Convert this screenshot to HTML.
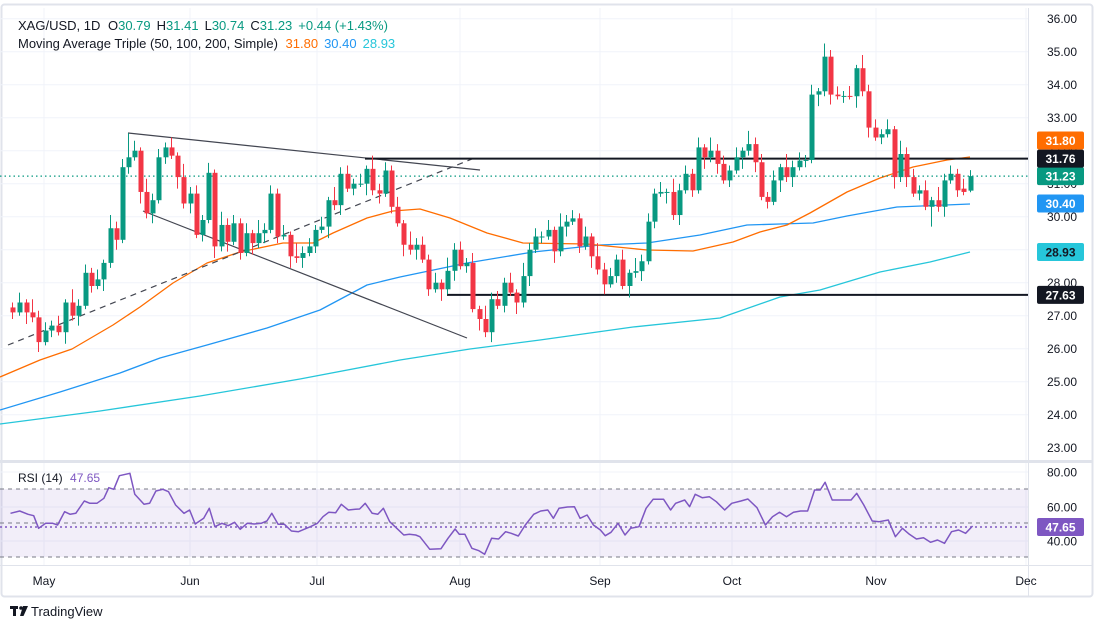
<!DOCTYPE html>
<html><head><meta charset="utf-8">
<style>
html,body{margin:0;padding:0;background:#fff;}
body{width:1101px;height:632px;overflow:hidden;font-family:"Liberation Sans",sans-serif;}
svg text{font-family:"Liberation Sans",sans-serif;}
</style></head>
<body>
<svg id="c" width="1101" height="632" xmlns="http://www.w3.org/2000/svg">
<rect x="0" y="0" width="1101" height="632" fill="#fff"/>
<rect x="1.5" y="4.5" width="1091" height="592" fill="none" stroke="#e0e3eb" stroke-width="2" rx="3"/>
<g id="grid"></g>
<rect x="0" y="489" width="1028" height="68" fill="#7e57c2" fill-opacity="0.1"/>
<g id="lines"></g>
<g id="candles"></g>
<g id="labels"></g>
<text x="18" y="30" font-size="13" fill="#131722">XAG/USD, 1D <tspan dx="4">O</tspan><tspan fill="#089981">30.79</tspan><tspan dx="6">H</tspan><tspan fill="#089981">31.41</tspan><tspan dx="6">L</tspan><tspan fill="#089981">30.74</tspan><tspan dx="6">C</tspan><tspan fill="#089981">31.23</tspan><tspan dx="6" fill="#089981">+0.44 (+1.43%)</tspan></text>
<text x="18" y="48" font-size="13" fill="#131722">Moving Average Triple (50, 100, 200, Simple) <tspan dx="4" fill="#ff6d00">31.80</tspan><tspan dx="6" fill="#2196f3">30.40</tspan><tspan dx="6" fill="#26c6da">28.93</tspan></text>
<text x="18" y="482" font-size="12" fill="#131722">RSI (14) <tspan dx="4" fill="#7e57c2">47.65</tspan></text>
<g transform="translate(10,606)"><rect x="0" y="0" width="8" height="3" fill="#131722"/><rect x="3" y="0" width="3" height="10" fill="#131722"/><circle cx="11" cy="2" r="1.8" fill="#131722"/><path d="M13 0 L18 0 L13.5 10 L10 10 Z" fill="#131722"/></g>
<text x="31" y="616" font-size="13" fill="#131722">TradingView</text>
</svg>
<script>
const NS="http://www.w3.org/2000/svg";
function el(p,t,a,txt){const e=document.createElementNS(NS,t);for(const k in a)e.setAttribute(k,a[k]);if(txt!==undefined)e.textContent=txt;p.appendChild(e);return e;}
const Y=p=>18.7+(36-p)*33;
const grid=document.getElementById('grid'),lines=document.getElementById('lines'),cg=document.getElementById('candles'),lab=document.getElementById('labels');
for(let p=24;p<=36;p++) el(grid,'line',{x1:0,x2:1028,y1:Y(p),y2:Y(p),stroke:'#f0f3fa','stroke-width':1});
[472,507,541].forEach(y=>el(grid,'line',{x1:0,x2:1028,y1:y,y2:y,stroke:'#f0f3fa'}));
const months=[["May",44],["Jun",190],["Jul",317],["Aug",460],["Sep",600],["Oct",732],["Nov",876],["Dec",1026]];
months.forEach(m=>{ if(m[1]<1028){el(grid,'line',{x1:m[1],x2:m[1],y1:8,y2:565,stroke:'#f0f3fa'});}
 el(lab,'text',{x:m[1],y:585,'font-size':12,fill:'#131722','text-anchor':'middle'},m[0]);});
el(grid,'line',{x1:0,x2:1092,y1:461.5,y2:461.5,stroke:'#e0e3eb','stroke-width':3});
el(grid,'line',{x1:0,x2:1092,y1:565.5,y2:565.5,stroke:'#e0e3eb'});
el(grid,'line',{x1:1028.5,x2:1028.5,y1:8,y2:597,stroke:'#e0e3eb'});
[[489,'4,4'],[557,'4,4'],[523,'4,4']].forEach(b=>el(lines,'line',{x1:0,x2:1028,y1:b[0],y2:b[0],stroke:'#787b86','stroke-dasharray':b[1]}));
el(lines,'line',{x1:0,x2:1028,y1:527,y2:527,stroke:'#7e57c2','stroke-dasharray':'2,3','stroke-width':1.5});
const ma50=[[0,377],[40,360],[72,349],[113,325],[140,307],[173,283],[207,263],[240,252],[283,243],[313,243],[333,233],[367,218],[393,211],[420,209],[450,218],[487,233],[523,243],[587,244],[647,250],[693,251],[733,242],[760,232],[787,225],[810,213],[847,192],[880,178],[913,167],[947,160],[970,157]];
const ma100=[[0,410],[60,392],[120,373],[160,358],[207,345],[267,328],[320,310],[367,285],[400,277],[467,263],[533,252],[600,245],[647,243],[700,235],[747,225],[780,224],[813,223],[847,216],[897,207],[970,204]];
const ma200=[[0,424],[100,411],[200,396],[300,379],[400,360],[470,349],[540,340],[633,327],[720,318],[780,297],[820,290],[880,272],[930,262],[970,252]];
const pl=(pts,c,w)=>el(lines,'polyline',{points:pts.map(p=>p.join(',')).join(' '),fill:'none',stroke:c,'stroke-width':w||1.3,'stroke-linejoin':'round'});
pl(ma200,'#26c6da',1.3);pl(ma100,'#2196f3',1.3);pl(ma50,'#ff6d00',1.3);
el(lines,'line',{x1:128,y1:133,x2:480,y2:170,stroke:'#434651','stroke-width':1.2});
el(lines,'line',{x1:143,y1:211,x2:467,y2:338,stroke:'#434651','stroke-width':1.2});
el(lines,'line',{x1:8,y1:345,x2:472,y2:159,stroke:'#434651','stroke-width':1.2,'stroke-dasharray':'6,5'});
el(lines,'line',{x1:365,y1:Y(31.76),x2:1028,y2:Y(31.76),stroke:'#131722','stroke-width':2});
el(lines,'line',{x1:447,y1:Y(27.63),x2:1028,y2:Y(27.63),stroke:'#131722','stroke-width':2});
el(lines,'line',{x1:0,y1:Y(31.23),x2:1028,y2:Y(31.23),stroke:'#089981','stroke-dasharray':'1.5,3','stroke-width':1.3});
const C=[[12,27.1],[19,27.4],[26,27.1],[32,26.95],[38,26.2],[45,26.55],[51,26.7],[58,26.5],[65,27.4],[72,27.0],[78,27.3],[85,28.3],[91,27.9],[97,28.1],[103,28.6],[110,29.65],[116,29.3],[122,31.5],[128,31.8],[134,32.0],[140,30.75],[146,30.1],[152,30.5],[158,31.8],[165,32.1],[171,31.85],[177,31.2],[183,30.4],[190,30.7],[196,29.45],[202,29.9],[208,31.33],[214,29.1],[221,29.75],[227,29.24],[233,29.8],[240,28.9],[246,29.5],[252,29.2],[258,29.5],[264,29.6],[270,30.7],[277,29.4],[283,29.45],[290,28.8],[296,28.75],[302,28.9],[309,29.1],[315,29.6],[321,29.7],[328,30.5],[334,30.35],[340,31.3],[347,30.85],[353,31.0],[360,31.0],[366,31.45],[372,30.8],[379,30.7],[385,31.4],[391,30.3],[397,29.8],[403,29.15],[410,29.0],[416,29.15],[422,28.7],[428,27.8],[435,28.0],[441,27.8],[447,28.36],[454,29.0],[460,28.5],[466,28.6],[472,27.2],[479,26.9],[485,26.5],[491,27.5],[497,27.3],[504,28.0],[510,27.7],[516,27.4],[523,28.2],[529,29.0],[535,29.4],[541,29.4],[548,29.6],[554,28.95],[560,29.7],[566,29.85],[572,29.95],[579,29.1],[585,29.4],[591,28.8],[597,28.4],[604,27.95],[610,28.2],[616,28.7],[622,27.9],[629,28.3],[635,28.35],[641,28.65],[648,29.85],[654,30.7],[660,30.75],[666,30.75],[673,30.05],[679,30.8],[685,31.3],[692,30.8],[698,32.1],[704,31.8],[710,32.0],[717,31.6],[723,31.1],[729,31.4],[736,31.8],[742,32.0],[748,32.2],[755,31.65],[761,30.6],[767,30.45],[773,31.1],[780,31.5],[786,31.2],[792,31.5],[799,31.7],[805,31.72],[811,33.7],[818,33.8],[824,34.85],[830,33.7],[837,33.65],[843,33.66],[849,33.65],[856,34.5],[862,33.8],[868,32.7],[875,32.4],[881,32.5],[887,32.65],[894,31.2],[900,31.9],[906,31.2],[913,30.7],[919,30.8],[925,30.3],[931,30.5],[938,30.3],[944,31.1],[950,31.3],[957,30.8],[963,30.75],[970,31.23]];
let prev=27.25;
C.forEach((d,i)=>{let [x,c]=d;let o=prev;if(i==C.length-1)o=30.79;if(i==C.length-2)o=30.85;
 const up=c>=o;const col=up?'#089981':'#f23645';
 const w1=[0.15,0.3,0.1,0.4,0.2,0.25][i%6],w2=[0.2,0.1,0.35,0.15,0.3,0.1][i%6];
 let h=Math.max(o,c)+w1,l=Math.min(o,c)-w2;
 if(x==128)h=32.53; if(i==C.length-1){h=31.41;l=30.74;} if(x==931)l=29.7;
 el(cg,'line',{x1:x+0.5,x2:x+0.5,y1:Y(h),y2:Y(l),stroke:col,'stroke-width':1});
 const yt=Y(Math.max(o,c)),yb=Y(Math.min(o,c));
 el(cg,'rect',{x:x-1.5,y:yt,width:5,height:Math.max(1,yb-yt),fill:col});
 prev=c;});
const R=[[15,175],[28,168],[40,178],[48,182],[55,220],[65,205],[75,205],[82,210],[92,170],[100,178],[108,175],[120,138],[128,145],[138,145],[148,130],[155,98],[162,103],[170,62],[185,55],[192,118],[205,148],[213,145],[222,108],[232,103],[240,110],[250,150],[262,175],[270,165],[278,207],[290,190],[298,160],[306,215],[316,205],[325,212],[334,202],[342,223],[352,205],[362,207],[372,205],[380,198],[387,175],[396,208],[405,208],[415,228],[425,230],[433,223],[442,215],[452,205],[460,185],[468,172],[478,173],[486,148],[496,165],[506,163],[512,162],[520,145],[530,175],[538,178],[546,160],[555,200],[565,220],[575,240],[583,238],[592,240],[598,245],[612,283],[628,281],[638,250],[648,222],[654,238],[662,238],[672,280],[682,287],[690,298],[700,250],[710,252],[720,230],[728,235],[738,243],[748,210],[760,178],[770,168],[780,165],[788,190],[796,160],[808,156],[818,155],[826,190],[836,180],[845,210],[855,225],[862,242],[870,232],[880,205],[890,240],[898,220],[910,215],[920,160],[930,133],[945,133],[955,165],[962,145],[975,135],[982,155],[990,118],[1000,128],[1010,125],[1020,140],[1032,165],[1042,145],[1055,138],[1065,132],[1078,158],[1090,210],[1100,185],[1110,172],[1120,185],[1130,172],[1140,168],[1150,168],[1160,105],[1168,105],[1175,82],[1185,135],[1195,135],[1212,135],[1220,115],[1230,150],[1242,198],[1252,200],[1265,195],[1275,245],[1285,220],[1295,238],[1305,252],[1315,248],[1325,262],[1335,255],[1345,265],[1355,230],[1365,225],[1375,235],[1385,213]];
el(lines,'polyline',{points:R.map(p=>(p[0]/1.424).toFixed(1)+','+(455+p[1]/3).toFixed(1)).join(' '),fill:'none',stroke:'#7e57c2','stroke-width':1.5,'stroke-linejoin':'round'});
for(let p=23;p<=36;p++){ el(lab,'text',{x:1062,y:Y(p)+4.5,'font-size':12,fill:'#131722','text-anchor':'middle'},p.toFixed(2)); }
[[80,472],[60,507],[40,541]].forEach(r=>el(lab,'text',{x:1062,y:r[1]+4.5,'font-size':12,fill:'#131722','text-anchor':'middle'},r[0].toFixed(2)));
const box=(y,txt,bg,fg)=>{el(lab,'rect',{x:1037,y:y-9,width:47,height:18,fill:bg,rx:2});el(lab,'text',{x:1060.5,y:y+4.5,'font-size':12,'font-weight':'bold',fill:fg,'text-anchor':'middle'},txt);};
box(Y(27.63),'27.63','#131722','#fff');
box(Y(28.93),'28.93','#26c6da','#131722');
box(Y(30.40),'30.40','#2196f3','#fff');
box(Y(31.23),'31.23','#089981','#fff');
box(140.5,'31.80','#ff6d00','#fff');
box(Y(31.76),'31.76','#131722','#fff');
box(527,'47.65','#7e57c2','#fff');
</script>
</body></html>
